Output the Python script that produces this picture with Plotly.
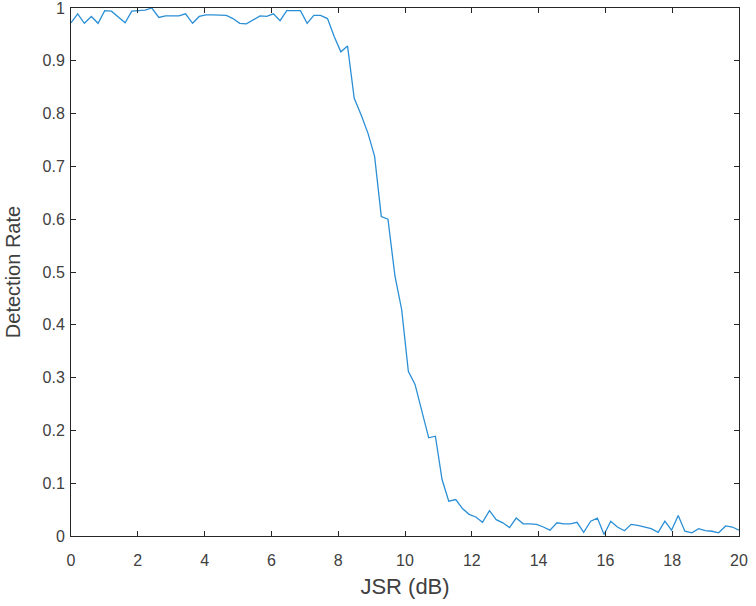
import plotly.graph_objects as go

# JSR sample points (dB), 100 samples across 0..20
jsr_db = [
    0.00, 0.20, 0.40, 0.61, 0.81, 1.01, 1.21, 1.41, 1.62, 1.82,
    2.02, 2.22, 2.42, 2.63, 2.83, 3.03, 3.23, 3.43, 3.64, 3.84,
    4.04, 4.24, 4.44, 4.65, 4.85, 5.05, 5.25, 5.45, 5.66, 5.86,
    6.06, 6.26, 6.46, 6.67, 6.87, 7.07, 7.27, 7.47, 7.68, 7.88,
    8.08, 8.28, 8.48, 8.69, 8.89, 9.09, 9.29, 9.49, 9.70, 9.90,
    10.10, 10.30, 10.51, 10.71, 10.91, 11.11, 11.31, 11.52, 11.72, 11.92,
    12.12, 12.32, 12.53, 12.73, 12.93, 13.13, 13.33, 13.54, 13.74, 13.94,
    14.14, 14.34, 14.55, 14.75, 14.95, 15.15, 15.35, 15.56, 15.76, 15.96,
    16.16, 16.36, 16.57, 16.77, 16.97, 17.17, 17.37, 17.58, 17.78, 17.98,
    18.18, 18.38, 18.59, 18.79, 18.99, 19.19, 19.39, 19.60, 19.80, 20.00,
]

# detection rate
detection_rate = [
    0.972, 0.989, 0.971, 0.984, 0.971, 0.995, 0.994, 0.984, 0.972, 0.994,
    0.995, 0.996, 1.000, 0.982, 0.985, 0.985, 0.985, 0.989, 0.971, 0.984,
    0.987, 0.987, 0.987, 0.986, 0.980, 0.971, 0.970, 0.977, 0.985, 0.984,
    0.989, 0.976, 0.995, 0.995, 0.995, 0.971, 0.986, 0.986, 0.980, 0.946,
    0.917, 0.928, 0.829, 0.797, 0.763, 0.719, 0.605, 0.600, 0.492, 0.429,
    0.312, 0.287, 0.235, 0.186, 0.189, 0.107, 0.066, 0.069, 0.052, 0.041,
    0.036, 0.026, 0.048, 0.031, 0.025, 0.016, 0.034, 0.023, 0.023, 0.022,
    0.017, 0.011, 0.025, 0.023, 0.023, 0.026, 0.007, 0.028, 0.034, 0.003,
    0.028, 0.017, 0.010, 0.022, 0.020, 0.017, 0.014, 0.007, 0.028, 0.011,
    0.039, 0.009, 0.006, 0.014, 0.010, 0.009, 0.006, 0.019, 0.017, 0.011,
]

x_ticks = [0, 2, 4, 6, 8, 10, 12, 14, 16, 18, 20]
y_ticks = [0, 0.1, 0.2, 0.3, 0.4, 0.5, 0.6, 0.7, 0.8, 0.9, 1]
y_labels = ["0", "0.1", "0.2", "0.3", "0.4", "0.5", "0.6", "0.7", "0.8", "0.9", "1"]

axis_col = "#262626"
label_col = "#404040"

fig = go.Figure()
fig.add_trace(go.Scatter(x=jsr_db, y=detection_rate, mode="lines",
                         line=dict(color="#2b8fd6", width=1.3),
                         showlegend=False, hoverinfo="skip"))

common = dict(showline=True, linecolor=axis_col, linewidth=1, mirror="allticks",
              ticks="inside", ticklen=5, tickwidth=1, tickcolor=axis_col,
              showgrid=False, zeroline=False, ticklabeloverflow="allow",
              tickfont=dict(size=16, color=label_col))

fig.update_xaxes(range=[0, 20], tickvals=x_ticks, ticklabelstandoff=10,
                 title=dict(text="JSR (dB)", font=dict(size=22, color=label_col), standoff=10),
                 **common)
fig.update_yaxes(range=[0, 1], tickvals=y_ticks, ticktext=y_labels, ticklabelstandoff=2,
                 title=dict(text="Detection Rate", font=dict(size=20, color=label_col), standoff=16),
                 **common)

fig.update_layout(width=756, height=606,
                  margin=dict(l=71, r=17, t=8, b=70, autoexpand=False),
                  paper_bgcolor="white", plot_bgcolor="white",
                  font=dict(family="Liberation Sans, Arial, sans-serif"))

# page body has a default 8px margin; drop it so the figure sits at the window corner
fig.write_html("out.html", config={"displayModeBar": False},
               post_script="document.body.style.margin='0px';")
